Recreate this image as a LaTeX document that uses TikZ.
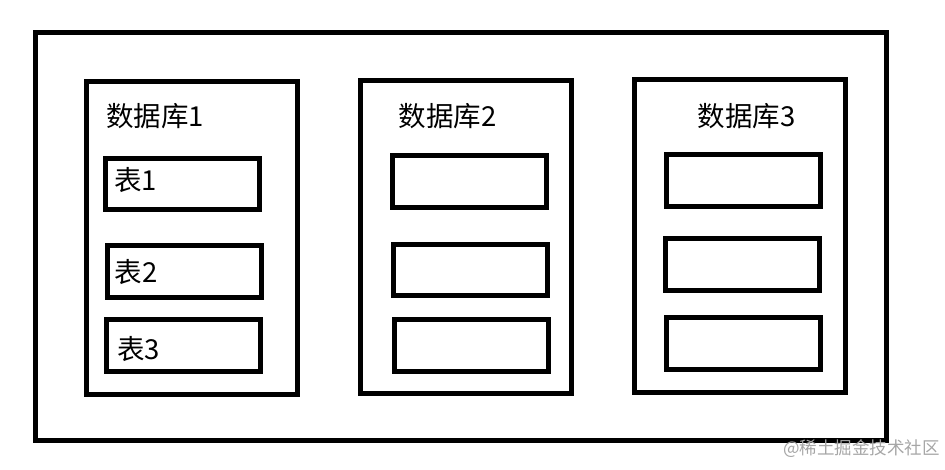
\documentclass[tikz,border=0pt]{standalone}
\usepackage{fontspec}
\setmainfont{Noto Sans CJK SC}
\colorlet{Outline}{black}
\colorlet{Watermark}{black!35}
\usetikzlibrary{positioning}

\begin{document}
\begin{tikzpicture}[x=1pt, y=-1pt,
    frame/.style={draw=Outline, line width=5pt, inner sep=0pt},
    dbbox/.style={frame, minimum width=211pt, minimum height=313pt},
    tablebox/.style={frame, minimum width=154pt, minimum height=51.5pt},
    dbtext/.style={anchor=base west, inner sep=0pt, font=\fontsize{27.5}{27.5}\selectfont},
    tabletext/.style={anchor=base west, inner sep=0pt, font=\fontsize{27.5}{27.5}\selectfont}]

\useasboundingbox (0,0) rectangle (945,470);

\node[frame, minimum width=851pt, minimum height=408pt] (server) at (460.5,236.6) {};

\node[dbbox] (db1) at (191.75,237.75) {};
\node[dbbox] (db2) at (466.35,237.25) {};
\node[dbbox] (db3) at (740,236.25) {};

\node[dbtext] (db1name) at (106,126.5) {数据库1};
\node[dbtext] (db2name) at (398.5,126.5) {数据库2};
\node[dbtext] (db3name) at (697.5,126.5) {数据库3};

\node[tablebox] (t11) at (182.5,184.25) {};
\node[tablebox] (t12) at (184.75,271.75) {};
\node[tablebox] (t13) at (183.75,345.5) {};
\node[tablebox] (t21) at (469.75,181.5) {};
\node[tablebox] (t22) at (470.75,270.25) {};
\node[tablebox] (t23) at (471.25,345.5) {};
\node[tablebox] (t31) at (743.35,180.75) {};
\node[tablebox] (t32) at (742.5,264.5) {};
\node[tablebox] (t33) at (743.25,343.25) {};

\node[tabletext] (t11name) at (114,190.7) {表1};
\node[tabletext] (t12name) at (114.5,282.7) {表2};
\node[tabletext] (t13name) at (117,359.3) {表3};

\node[anchor=base east, inner sep=0pt, text=Watermark, font=\fontsize{17.5}{17.5}\selectfont] (mark) at (940,454.5) {@稀土掘金技术社区};

\end{tikzpicture}
\end{document}
